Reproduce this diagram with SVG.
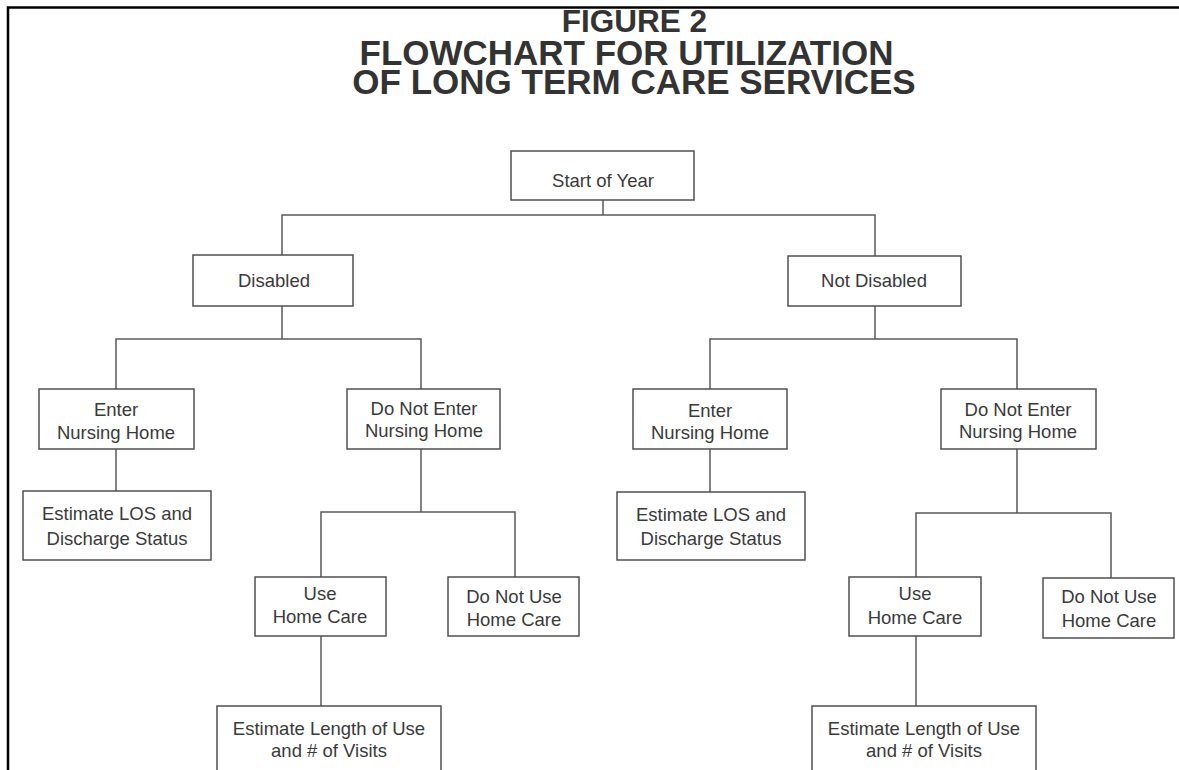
<svg xmlns="http://www.w3.org/2000/svg" width="1179" height="770" viewBox="0 0 1179 770">
<style>
.box{fill:#fff;stroke:#505050;stroke-width:1.5}
.lbl{font-family:"Liberation Sans",Arial,sans-serif;font-size:18.5px;fill:#3a3a3a;text-anchor:middle}
.ttl{font-family:"Liberation Sans",Arial,sans-serif;font-weight:bold;fill:#333;text-anchor:middle}
.conn{fill:none;stroke:#5a5a5a;stroke-width:1.5}
.frame{fill:none;stroke:#000;stroke-width:2.5}
</style>
<rect width="1179" height="770" fill="#fff"/>
<path class="frame" d="M8,770 V7.5 H1179"/>
<g id="title">
<text class="ttl" x="634.5" y="32" font-size="31.5">FIGURE 2</text>
<text class="ttl" x="626.5" y="65" font-size="35">FLOWCHART FOR UTILIZATION</text>
<text class="ttl" x="634" y="94" font-size="35">OF LONG TERM CARE SERVICES</text>
</g>
<g id="connectors">
<path class="conn" d="M603,200 V215 M282,255 V215 H875 V256"/>
<path class="conn" d="M282,306 V339 M116,389 V339 H421 V389"/>
<path class="conn" d="M116,449 V491"/>
<path class="conn" d="M421,449 V512 M321,577 V512 H515 V577"/>
<path class="conn" d="M321,636 V706"/>
<path class="conn" d="M875,306 V339 M710,389 V339 H1017 V389"/>
<path class="conn" d="M710,449 V492"/>
<path class="conn" d="M1017,449 V513 M916,577 V513 H1111 V578"/>
<path class="conn" d="M916,636 V706"/>
</g>
<g id="start"><rect class="box" x="511" y="151" width="183" height="49"/><text class="lbl" x="603" y="187">Start of Year</text></g>
<g id="disabled"><rect class="box" x="193" y="255" width="160" height="51"/><text class="lbl" x="274" y="287">Disabled</text></g>
<g id="not-disabled"><rect class="box" x="788" y="256" width="173" height="50"/><text class="lbl" x="874" y="287">Not Disabled</text></g>
<g id="l-enter"><rect class="box" x="39" y="389" width="155" height="60"/><text class="lbl" x="116" y="416">Enter</text><text class="lbl" x="116" y="439">Nursing Home</text></g>
<g id="l-noenter"><rect class="box" x="347" y="389" width="153" height="60"/><text class="lbl" x="424" y="415">Do Not Enter</text><text class="lbl" x="424" y="437">Nursing Home</text></g>
<g id="l-los"><rect class="box" x="23" y="491" width="188" height="69"/><text class="lbl" x="117" y="520">Estimate LOS and</text><text class="lbl" x="117" y="545">Discharge Status</text></g>
<g id="l-use"><rect class="box" x="255" y="577" width="131" height="59"/><text class="lbl" x="320" y="600">Use</text><text class="lbl" x="320" y="623">Home Care</text></g>
<g id="l-nouse"><rect class="box" x="448" y="577" width="131" height="59"/><text class="lbl" x="514" y="603">Do Not Use</text><text class="lbl" x="514" y="626">Home Care</text></g>
<g id="l-length"><rect class="box" x="217" y="706" width="224" height="80"/><text class="lbl" x="329" y="735">Estimate Length of Use</text><text class="lbl" x="329" y="757">and # of Visits</text></g>
<g id="r-enter"><rect class="box" x="633" y="389" width="154" height="60"/><text class="lbl" x="710" y="417">Enter</text><text class="lbl" x="710" y="439">Nursing Home</text></g>
<g id="r-noenter"><rect class="box" x="941" y="389" width="155" height="60"/><text class="lbl" x="1018" y="416">Do Not Enter</text><text class="lbl" x="1018" y="438">Nursing Home</text></g>
<g id="r-los"><rect class="box" x="617" y="492" width="188" height="68"/><text class="lbl" x="711" y="521">Estimate LOS and</text><text class="lbl" x="711" y="545">Discharge Status</text></g>
<g id="r-use"><rect class="box" x="849" y="577" width="132" height="59"/><text class="lbl" x="915" y="600">Use</text><text class="lbl" x="915" y="624">Home Care</text></g>
<g id="r-nouse"><rect class="box" x="1043" y="578" width="131" height="60"/><text class="lbl" x="1109" y="603">Do Not Use</text><text class="lbl" x="1109" y="627">Home Care</text></g>
<g id="r-length"><rect class="box" x="812" y="706" width="224" height="80"/><text class="lbl" x="924" y="735">Estimate Length of Use</text><text class="lbl" x="924" y="757">and # of Visits</text></g>
</svg>
